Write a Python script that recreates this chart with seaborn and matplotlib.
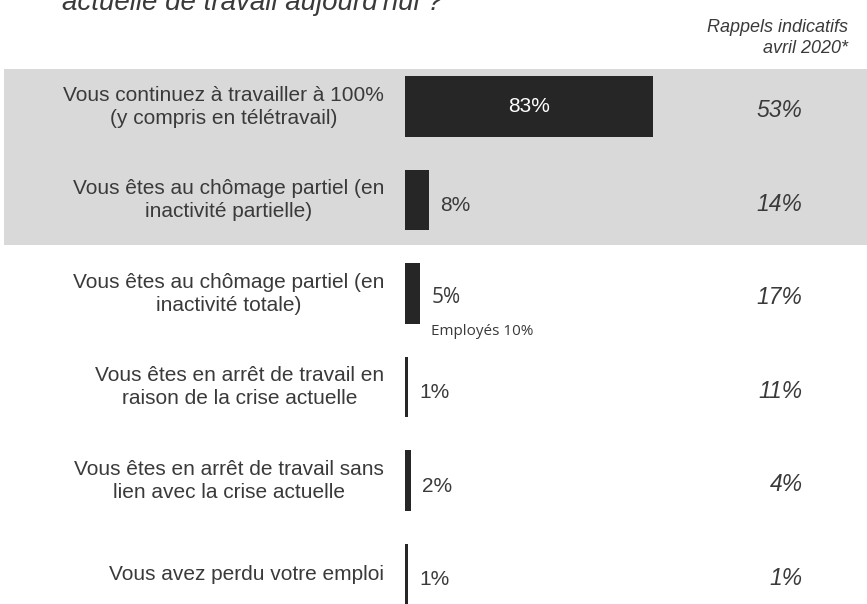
import matplotlib
matplotlib.use("Agg")
import matplotlib.pyplot as plt
import seaborn as sns
import pandas as pd

# Data
categories = [
    "Vous continuez à travailler à 100%\n(y compris en télétravail)",
    "Vous êtes au chômage partiel (en\ninactivité partielle)",
    "Vous êtes au chômage partiel (en\ninactivité totale)",
    "Vous êtes en arrêt de travail en\nraison de la crise actuelle",
    "Vous êtes en arrêt de travail sans\nlien avec la crise actuelle",
    "Vous avez perdu votre emploi",
]
values = [83, 8, 5, 1, 2, 1]
april_2020 = [53, 14, 17, 11, 4, 1]
note_label = "Employés 10%"

df = pd.DataFrame({"categorie": categories, "valeur": values})

sns.set_style("white")
plt.rcParams["font.family"] = ["Liberation Sans", "DejaVu Sans"]

fig = plt.figure(figsize=(8.67, 6.04), dpi=100)
ax = fig.add_axes([0, 0, 1, 1])

# grey highlight band behind the first two rows
ax.axhspan(-0.40, 1.48, xmin=0.005, xmax=1, color="#d9d9d9", lw=0, zorder=0)

sns.barplot(data=df, x="valeur", y="categorie", orient="h",
            color="#262626", width=0.65, saturation=1, linewidth=0,
            ax=ax, zorder=2)

# 0% sits at x=405 px, ~2.99 px per %
ax.set_xlim(-135.5, 154.5)
ax.set_ylim(5.32, -1.14)
ax.axis("off")

text_col = "#3a3a3a"

for i, (cat, v, old) in enumerate(zip(categories, values, april_2020)):
    ax.text(-7, i, cat, ha="right", va="center", multialignment="center",
            fontsize=15, color=text_col, linespacing=1.26)
    if i == 0:
        ax.text(v / 2, i, f"{v}%", ha="center", va="center",
                fontsize=15, color="white")
    elif i == 2:
        ax.annotate(f"{v}%", xy=(v, i), xytext=(8, -3), textcoords="offset points",
                    ha="left", va="center", fontsize=15, color=text_col,
                    family=["Open Sans", "DejaVu Sans"])
        ax.annotate(note_label, xy=(v, i), xytext=(8, -27), textcoords="offset points",
                    ha="left", va="center", fontsize=11, color=text_col,
                    family=["Open Sans", "DejaVu Sans"])
    else:
        ax.annotate(f"{v}%", xy=(v, i), xytext=(8, -4), textcoords="offset points",
                    ha="left", va="center", fontsize=15, color=text_col)
    ax.annotate(f"{old}%", xy=(133, i), xytext=(0, -3), textcoords="offset points",
                ha="right", va="center", fontsize=16.5, style="italic", color=text_col)

fig.text(848 / 867, 1 - 38 / 604, "Rappels indicatifs\navril 2020*", ha="right",
         va="center", multialignment="right", fontsize=13, style="italic",
         color=text_col, linespacing=1.3)

# title, cropped at the top edge as in the original slide
fig.text(62 / 867, 1 - 10 / 604, "actuelle de travail aujourd'hui ?", ha="left",
         va="baseline", fontsize=20, style="italic", color=text_col)

plt.savefig("out.png", dpi=100)
